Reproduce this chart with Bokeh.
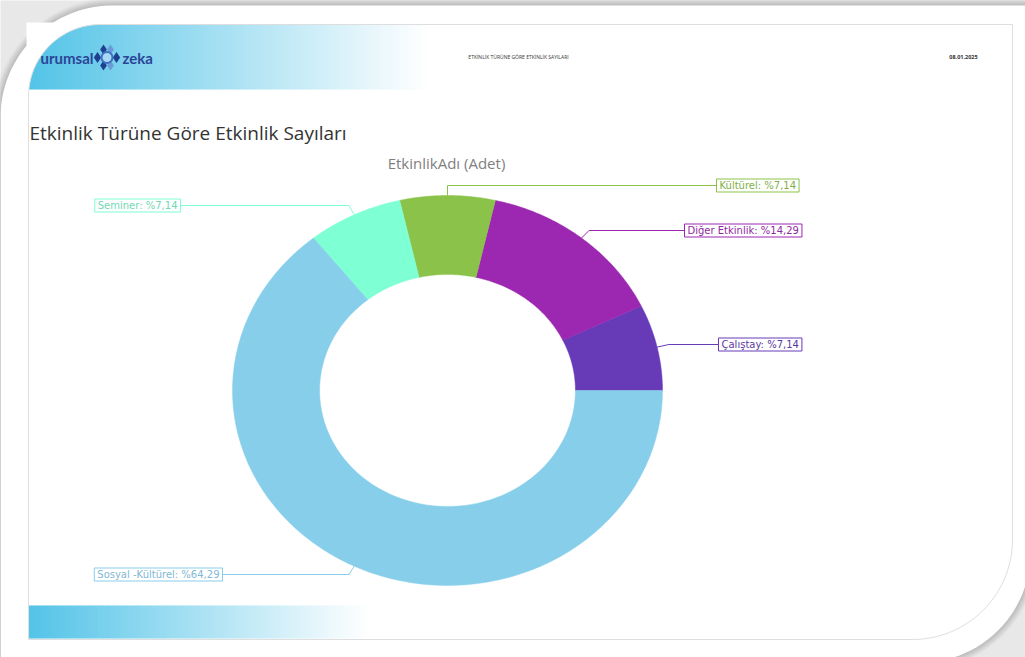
import numpy as np
from bokeh.plotting import figure
from bokeh.models import Range1d, ColumnDataSource
from bokeh.core.properties import value
from bokeh.embed import file_html
from bokeh.resources import INLINE

# ---------------- data ----------------
categories = ["Çalıştay", "Diğer Etkinlik", "Kültürel", "Seminer", "Sosyal -Kültürel"]
counts = [1, 2, 1, 1, 9]
colors = ["#673AB7", "#9C27B0", "#8BC34A", "#7FFFD4", "#87CEEB"]
text_colors = ["#5a3aa0", "#8e2aa0", "#7fb048", "#72d8b4", "#7fb8d4"]
title_text = "Etkinlik Türüne Göre Etkinlik Sayıları"
subtitle_text = "EtkinlikAdı (Adet)"
header_text = "ETKİNLİK TÜRÜNE GÖRE ETKİNLİK SAYILARI"
date_text = "08.01.2025"

# ---------------- layout (pixels, y down) ----------------
W, H = 1025, 657
CX, CY = 447, 390
RX, RY = 215, 195
INNER = 0.595
label_anchor_x = [718, 684, 716, 180, 222]
label_y = [344, 230, 185, 205, 574]
label_side = ["left", "left", "left", "right", "right"]

p = figure(width=W, height=H, x_range=Range1d(0, W), y_range=Range1d(H, 0),
           output_backend="svg", toolbar_location=None, min_border=0,
           background_fill_color="#e8e8e8", border_fill_color="#e8e8e8")
p.axis.visible = False
p.grid.visible = False
p.outline_line_color = None


def rounded_rect(x0, y0, x1, y1, r_tl, r_br, n=48):
    xs, ys = [], []
    t = np.linspace(np.pi, 1.5 * np.pi, n)
    xs += list(x0 + r_tl + r_tl * np.cos(t)); ys += list(y0 + r_tl + r_tl * np.sin(t))
    xs.append(x1); ys.append(y0)
    t = np.linspace(0, 0.5 * np.pi, n)
    xs += list(x1 - r_br + r_br * np.cos(t)); ys += list(y1 - r_br + r_br * np.sin(t))
    xs.append(x0); ys.append(y1)
    return xs, ys


# page shadow layers + page
for k in range(8, 0, -1):
    g = int(0xe8 - (8 - k) * 6)
    col = "#%02x%02x%02x" % (g, g, g)
    xs, ys = rounded_rect(0 - k, 5 - k, 1030 + k, 662 + k, 112 + k, 110 + k)
    p.patch(xs, ys, fill_color=col, line_color=None)
xs, ys = rounded_rect(0, 5, 1030, 662, 112, 110)
p.patch(xs, ys, fill_color="white", line_color=None)

# header gradient band
def gradient_band(x_start, x_end, y_top, y_bot, step=3):
    lefts = np.arange(x_start, x_end, step)
    c0 = np.array([84, 196, 232]); c1 = np.array([255, 255, 255])
    cols = []
    for l in lefts:
        t = (l - x_start) / (x_end - x_start)
        c = c0 + (c1 - c0) * t
        cols.append("#%02x%02x%02x" % tuple(int(v) for v in c))
    p.quad(left=lefts, right=lefts + step + 0.6, top=[y_top] * len(lefts),
           bottom=[y_bot] * len(lefts), fill_color=cols, line_color=None)

gradient_band(28, 425, 24, 89)
gradient_band(28, 365, 605, 638)

# mask for rounded top-left corner of inner border
t = np.linspace(1.5 * np.pi, np.pi, 40)
mx = [26, 100] + list(100 + 72 * np.cos(t)) + [26]
my = [22, 22] + list(96 + 72 * np.sin(t)) + [96]
p.patch(mx, my, fill_color="white", line_color=None)

# inner border
bx, by = rounded_rect(28, 24, 1012, 639, 72, 100)
p.line(bx + [bx[0]], by + [by[0]], line_color="#dedede", line_width=1)

# logo
p.text(x=[93], y=[57], text=["urumsal"], text_align="right", text_baseline="middle",
       text_font=value("Lato"), text_font_style="bold", text_font_size="15px",
       text_color="#2b4597")
p.text(x=[122], y=[57], text=["zeka"], text_align="left", text_baseline="middle",
       text_font=value("Lato"), text_font_style="bold", text_font_size="15px",
       text_color="#2b4597")
p.scatter(x=[103, 110, 97, 116, 103, 110], y=[49, 49, 57, 57, 65, 65],
          marker="diamond", size=[10, 10, 11, 11, 10, 10],
          fill_color=["#1f3f8f", "#6a9ad8", "#1f3f8f", "#1f3f8f", "#1f3f8f", "#6a9ad8"],
          line_color=None)
p.scatter(x=[106.5], y=[57], marker="circle", size=11, fill_color="#a8d8f4",
          line_color="#3f6fc0", line_width=2)

# header texts
p.text(x=[518], y=[56], text=[header_text], text_align="center", text_baseline="middle",
       text_font=value("Open Sans"), text_font_size="5px", text_color="#333333")
p.text(x=[963], y=[56], text=[date_text], text_align="center", text_baseline="middle",
       text_font=value("Open Sans"), text_font_style="bold", text_font_size="5.5px",
       text_color="#333333")

# titles
p.text(x=[29], y=[132], text=[title_text], text_align="left", text_baseline="middle",
       text_font=value("Open Sans"), text_font_size="19px", text_color="#333333")
p.text(x=[446], y=[162], text=[subtitle_text], text_align="center", text_baseline="middle",
       text_font=value("Open Sans"), text_font_size="15px", text_color="#7f7f7f")

# ---------------- donut ----------------
vals = np.array(counts, dtype=float)
frac = vals / vals.sum()
ends = np.cumsum(frac) * 2 * np.pi
starts = np.concatenate([[0], ends[:-1]])
pxs, pys = [], []
for a0, a1 in zip(starts, ends):
    t = np.linspace(a0, a1, 80)
    ox = CX + RX * np.cos(t); oy = CY - RY * np.sin(t)
    ix = CX + RX * INNER * np.cos(t[::-1]); iy = CY - RY * INNER * np.sin(t[::-1])
    pxs.append(list(ox) + list(ix)); pys.append(list(oy) + list(iy))
p.patches(pxs, pys, fill_color=colors, line_color=colors, line_width=0.5)

# leader lines and labels
mids = (starts + ends) / 2
lxs, lys = [], []
for m, ax, ly in zip(mids, label_anchor_x, label_y):
    sx = CX + RX * np.cos(m); sy = CY - RY * np.sin(m)
    ex = CX + (RX + 12) * np.cos(m)
    lxs.append([sx, ex, ax]); lys.append([sy, ly, ly])
p.multi_line(lxs, lys, line_color=colors, line_width=1)

pct = ["%" + ("%.2f" % (f * 100)).replace(".", ",") for f in frac]
texts = ["%s: %s" % (c, s) for c, s in zip(categories, pct)]
for side in ["left", "right"]:
    idx = [i for i, s in enumerate(label_side) if s == side]
    src = ColumnDataSource(dict(
        x=[label_anchor_x[i] for i in idx],
        y=[label_y[i] for i in idx],
        text=[texts[i] for i in idx],
        col=[colors[i] for i in idx],
        tcol=[text_colors[i] for i in idx]))
    p.text(x="x", y="y", text="text", source=src, text_align=side, text_baseline="middle",
           text_font=value("DejaVu Sans"), text_font_size="10px", text_color="tcol",
           background_fill_color="white", border_line_color="col", border_line_width=1,
           padding=dict(left=3, right=3, top=1, bottom=1))

open("out.html", "w").write(file_html(p, INLINE))
